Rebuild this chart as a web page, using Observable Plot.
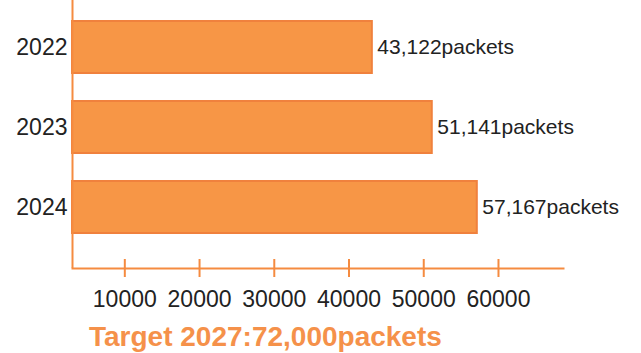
<!DOCTYPE html>
<html>
<head>
<meta charset="utf-8">
<script src="https://cdn.jsdelivr.net/npm/d3@7"></script>
<script src="https://cdn.jsdelivr.net/npm/@observablehq/plot@0.6"></script>
<style>
  html, body { margin: 0; padding: 0; background: #fff; }
  #wrap { position: relative; width: 641px; height: 353px; overflow: hidden; font-family: "Liberation Sans", Arial, sans-serif; }
  #title { position: absolute; left: 89px; top: 321px; font-size: 28px; font-weight: bold; color: #F5914A; white-space: nowrap; line-height: normal; }
</style>
</head>
<body>
<div id="wrap"><div id="title"></div></div>
<script>
const years = ["2022", "2023", "2024"];
const values = [43122, 51141, 57167];
const unit = "packets";
const xTicks = [10000, 20000, 30000, 40000, 50000, 60000];
const xStart = 3000;
const xEnd = 68700;
const titleText = "Target 2027:72,000packets";

const orange = "#F79646";
const edge = "#F0813D";
const axisColor = "#F58B40";
const fmt = d3.format(",");
const data = years.map((y, i) => ({year: y, value: values[i], label: fmt(values[i]) + unit}));

const chart = Plot.plot({
  width: 641,
  height: 320,
  marginLeft: 72,
  marginRight: 78,
  marginTop: 0,
  marginBottom: 52,
  style: {fontFamily: "'Liberation Sans', Arial, sans-serif", background: "transparent", overflow: "visible"},
  x: {domain: [xStart, xEnd], ticks: xTicks},
  y: {domain: years, paddingInner: 0.35, paddingOuter: 0.344, align: 0.38, label: null},
  marks: [
    Plot.barX(data, {y: "year", x1: () => xStart, x2: "value", fill: orange, stroke: edge, strokeWidth: 2}),
    Plot.text(data, {y: "year", x: "value", text: "label", textAnchor: "start", dx: 5, fontSize: 21, fill: "#222"}),
    Plot.ruleX([xStart], {stroke: axisColor, strokeWidth: 2}),
    Plot.frame({anchor: "bottom", stroke: axisColor, strokeWidth: 2}),
    Plot.axisX(xTicks, {tickSize: 18, dy: -9, tickFormat: () => "", stroke: axisColor, strokeWidth: 2, label: null}),
    Plot.axisX(xTicks, {tickSize: 0, tickPadding: 22, tickFormat: d => String(d), fontSize: 23, fill: "#222", label: null}),
    Plot.axisY({tickSize: 0, tickPadding: 5, fontSize: 23, fill: "#222", label: null})
  ]
});
chart.style.position = "absolute";
chart.style.left = "0px";
chart.style.top = "0px";
const wrap = document.getElementById("wrap");
wrap.insertBefore(chart, wrap.firstChild);
document.getElementById("title").textContent = titleText;
</script>
</body>
</html>
